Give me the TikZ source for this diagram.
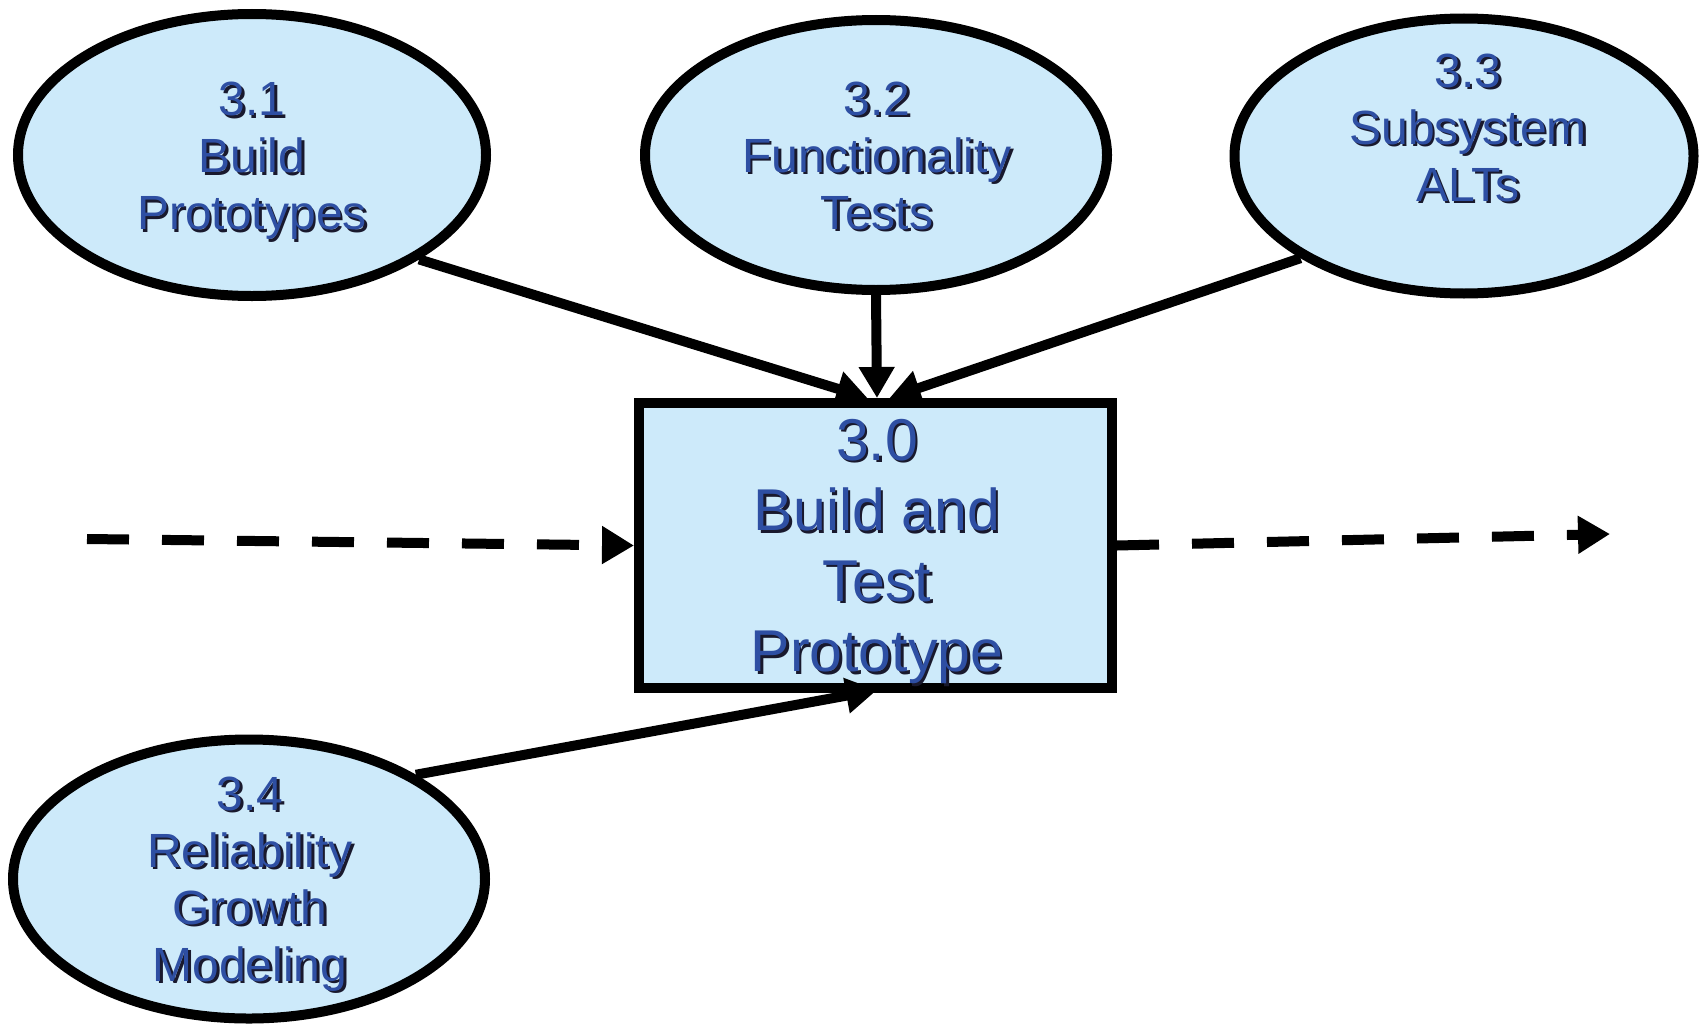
\documentclass[tikz,border=0pt]{standalone}
\usepackage{fontspec}
\setmainfont{Liberation Sans}
\usetikzlibrary{shapes.geometric,arrows.meta}

\definecolor{bubblefill}{RGB}{205,234,250}
\definecolor{ink}{RGB}{46,79,163}
\definecolor{shade}{RGB}{25,25,45}

% one line of text with a dark drop shadow behind it
\newcommand\sline[1]{\leavevmode\rlap{\kern2.5pt\raisebox{-2.5pt}{\textcolor{shade}{#1}}}\textcolor{ink}{#1}}

\tikzset{
  bubble/.style={ellipse, draw=black, line width=10pt, fill=bubblefill, inner sep=0pt},
  taskbox/.style={rectangle, draw=black, line width=10pt, fill=bubblefill, inner sep=0pt},
  lbl/.style={align=center, inner sep=0pt, font=\fontsize{48}{57}\selectfont},
  biglbl/.style={align=center, inner sep=0pt, font=\fontsize{59}{70.5}\selectfont},
  link/.style={line width=10pt, -{Triangle[length=31pt,width=34pt]}},
  flow/.style={line width=10pt, dash pattern=on 42pt off 33pt, -{Triangle[length=32pt,width=36pt]}},
}

\begin{document}
\begin{tikzpicture}[x=1pt,y=-1pt]
\useasboundingbox (0,0) rectangle (1702,1025);

% sub-activities
\node[bubble, minimum width=468pt, minimum height=282pt] (e31) at (252,155) {};
\node[bubble, minimum width=462pt, minimum height=270pt] (e32) at (876,155) {};
\node[bubble, minimum width=459pt, minimum height=275pt] (e33) at (1464,156) {};
\node[bubble, minimum width=472pt, minimum height=279pt] (e34) at (249,879) {};

% main activity
\node[taskbox, minimum width=473pt, minimum height=285pt] (main) at (875.5,545.5) {};

% flow in and out
\coordinate (inflow) at (87,539);
\coordinate (outflow) at (1610,534);

% connectors into the main activity
\draw[link] (e31.-32) -- ([xshift=-8pt]main.north);
\draw[link] (e32.south) -- ([xshift=1.5pt]main.north);
\draw[link] (e33.212) -- ([xshift=14pt]main.north);
\draw[link] (e34.32) -- ([xshift=1.5pt,yshift=3pt]main.south);

\draw[flow] (inflow) -- (main.west);
\draw[flow] (main.east) -- (outflow);

% labels
\node[lbl] (t31) at (252,162) {\sline{3.1}\\\sline{Build}\\\sline{Prototypes}};
\node[lbl] (t32) at (877,157) {\sline{3.2}\\\sline{Functionality}\\\sline{Tests}};
\node[lbl] (t33) at (1468,129) {\sline{3.3}\\\sline{Subsystem}\\\sline{ALTs}};
\node[lbl] (t34) at (250,885) {\sline{3.4}\\\sline{Reliability}\\\sline{Growth}\\\sline{Modeling}};
\node[biglbl] (t30) at (877,553) {\sline{3.0}\\\sline{Build and}\\\sline{Test}\\\sline{Prototype}};
\end{tikzpicture}
\end{document}
